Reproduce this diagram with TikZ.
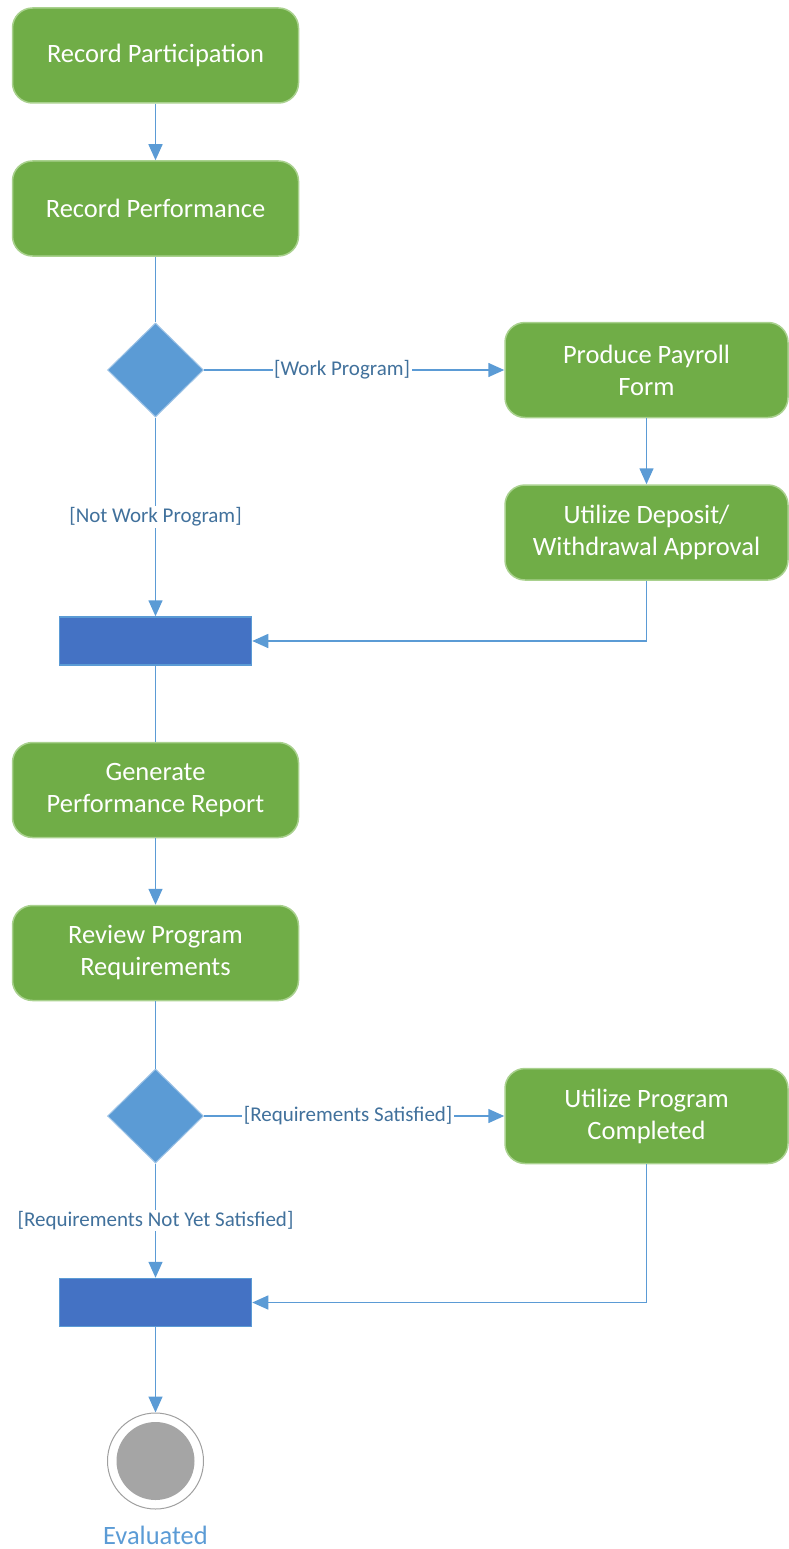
\documentclass[tikz,border=0pt]{standalone}
\usepackage{fontspec}
\setmainfont{Carlito}
\usetikzlibrary{arrows.meta,shapes.geometric,calc}
\definecolor{actgreen}{HTML}{70AD47}
\definecolor{actborder}{HTML}{A9D18E}
\definecolor{decblue}{HTML}{5B9BD5}
\definecolor{decborder}{HTML}{9DC3E6}
\definecolor{barblue}{HTML}{4472C4}
\definecolor{lineblue}{HTML}{5B9BD5}
\definecolor{labelblue}{HTML}{41719C}
\definecolor{endgray}{HTML}{A5A5A5}
\definecolor{ringgray}{HTML}{A0A0A0}
\begin{document}
\begin{tikzpicture}[x=1pt,y=-1pt,
 activity/.style={rectangle, rounded corners=20pt, fill=actgreen, draw=actborder, line width=1.5pt, minimum width=286pt, minimum height=95pt, text=white, font=\fontsize{26.5}{32}\selectfont, align=center, inner sep=0pt},
 decision/.style={diamond, fill=decblue, draw=decborder, line width=1pt, minimum width=96pt, minimum height=94pt, inner sep=0pt},
 syncbar/.style={rectangle, fill=barblue, draw=decblue, line width=1.5pt, minimum width=192pt, minimum height=48pt, inner sep=0pt},
 flow/.style={draw=lineblue, line width=1.5pt},
 flowarrow/.style={flow, -{Triangle[length=16pt,width=14pt]}},
 guard/.style={fill=white, text=labelblue, font=\fontsize{21}{25}\selectfont, inner sep=1.5pt}
]
\useasboundingbox (0,0) rectangle (788,1549);

\node[activity] (rp) at (155.5,55.5) {Record Participation};
\node[activity] (rperf) at (155.5,208.5) {Record Performance};
\node[decision] (d1) at (155.5,370) {};
\node[activity, minimum width=283pt] (ppf) at (646.5,370) {Produce Payroll\\Form};
\node[activity, minimum width=283pt] (uda) at (646.5,532.5) {Utilize Deposit/\\Withdrawal Approval};
\node[syncbar] (b1) at (155.5,641) {};
\node[activity] (gpr) at (155.5,790) {Generate\\Performance Report};
\node[activity] (rpr) at (155.5,953) {Review Program\\Requirements};
\node[decision] (d2) at (155.5,1116) {};
\node[activity, minimum width=283pt] (upc) at (646.5,1116) {Utilize Program\\Completed};
\node[syncbar] (b2) at (155.5,1302.5) {};
\node[circle, draw=ringgray, line width=1pt, fill=white, minimum size=96pt, inner sep=0pt] (fin) at (155.5,1461) {};
\node[circle, fill=endgray, minimum size=78pt, inner sep=0pt] (finin) at (fin.center) {};
\node[text=decblue, font=\fontsize{26.5}{32}\selectfont, inner sep=0pt] (evl) at (155.5,1535) {Evaluated};

\draw[flowarrow] (rp) -- (rperf);
\draw[flow] (rperf) -- (d1);
\draw[flowarrow] (d1) -- node[guard, pos=0.46] {[Work Program]} (ppf);
\draw[flowarrow] (ppf) -- (uda);
\draw[flowarrow] (d1) -- node[guard] {[Not Work Program]} (b1);
\draw[flowarrow] (uda.south) |- (b1.east);
\draw[flow] (b1) -- (gpr);
\draw[flowarrow] (gpr) -- (rpr);
\draw[flow] (rpr) -- (d2);
\draw[flowarrow] (d2) -- node[guard, pos=0.48] {[Requirements Satisfied]} (upc);
\draw[flowarrow] (d2) -- node[guard] {[Requirements Not Yet Satisfied]} (b2);
\draw[flowarrow] (upc.south) |- (b2.east);
\draw[flowarrow] (b2) -- (fin);
\end{tikzpicture}
\end{document}
